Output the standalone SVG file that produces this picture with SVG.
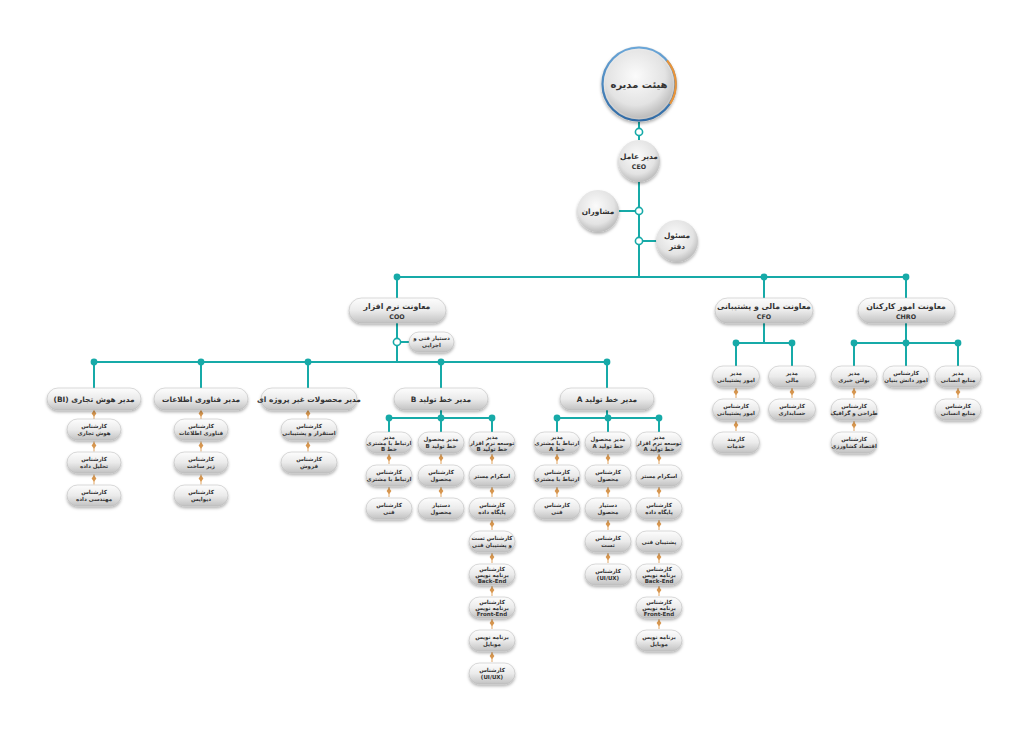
<svg xmlns="http://www.w3.org/2000/svg" xmlns:xlink="http://www.w3.org/1999/xlink" width="1024" height="733" viewBox="0 0 1024 733">
<defs>
<linearGradient id="pg" x1="0" y1="0" x2="0" y2="1"><stop offset="0" stop-color="#fdfdfd"/><stop offset="0.5" stop-color="#ebebeb"/><stop offset="1" stop-color="#c2c2c2"/></linearGradient>
<radialGradient id="cg" cx="0.45" cy="0.38" r="0.62"><stop offset="0" stop-color="#fbfbfb"/><stop offset="0.7" stop-color="#e3e3e3"/><stop offset="1" stop-color="#bdbdbd"/></radialGradient>
<linearGradient id="ring" x1="0" y1="0" x2="0" y2="1"><stop offset="0" stop-color="#6aa6d8"/><stop offset="1" stop-color="#2f6aa5"/></linearGradient>
<filter id="sh" x="-30%" y="-40%" width="160%" height="200%"><feDropShadow dx="0" dy="2" stdDeviation="1.5" flood-color="#000" flood-opacity="0.3"/></filter>
<g id="oc"><line x1="0" y1="-5" x2="0" y2="5" stroke="#e6b47c" stroke-width="1.2"/><path d="M0,-4.2 L2.4,-1 L0,2.2 L-2.4,-1 Z" fill="#d8974f"/></g>
<style>
.c{stroke:#17aaa8;stroke-width:2;fill:none}
.dot{fill:#17aaa8}
.hol{fill:#fff;stroke:#17aaa8;stroke-width:1.6}
.pl{fill:url(#pg);stroke:#b4b4b4;stroke-width:0.5;filter:url(#sh)}
.ci{fill:url(#cg);filter:url(#sh)}
text{font-family:"DejaVu Sans",sans-serif;fill:#333;text-anchor:middle;direction:rtl;font-weight:bold}
.f0{font-size:10px}
.f1{font-size:7.8px}
.f2{font-size:7.4px}
.f3{font-size:5.5px}
.en{font-size:6.3px}
</style>
</defs>
<rect width="1024" height="733" fill="#fff"/>

<g id="connectors">
<line class="c" x1="639" y1="122" x2="639" y2="140"/>
<line class="c" x1="639" y1="182" x2="639" y2="277"/>
<line class="c" x1="619" y1="211" x2="639" y2="211"/>
<line class="c" x1="639" y1="241" x2="657" y2="241"/>
<line class="c" x1="397" y1="277" x2="906" y2="277"/>
<line class="c" x1="397" y1="277" x2="397" y2="298"/>
<line class="c" x1="764" y1="277" x2="764" y2="298"/>
<line class="c" x1="906" y1="277" x2="906" y2="298"/>
<line class="c" x1="397" y1="323" x2="397" y2="362"/>
<line class="c" x1="397" y1="342" x2="409" y2="342"/>
<line class="c" x1="93" y1="362" x2="607" y2="362"/>
<line class="c" x1="94" y1="362" x2="94" y2="388"/>
<line class="c" x1="201" y1="362" x2="201" y2="388"/>
<line class="c" x1="308" y1="362" x2="308" y2="388"/>
<line class="c" x1="441" y1="362" x2="441" y2="388"/>
<line class="c" x1="607" y1="362" x2="607" y2="388"/>
<line class="c" x1="764" y1="323" x2="764" y2="343"/>
<line class="c" x1="736" y1="343" x2="792" y2="343"/>
<line class="c" x1="736" y1="343" x2="736" y2="366"/>
<line class="c" x1="792" y1="343" x2="792" y2="366"/>
<line class="c" x1="906" y1="323" x2="906" y2="343"/>
<line class="c" x1="854" y1="343" x2="958" y2="343"/>
<line class="c" x1="854" y1="343" x2="854" y2="366"/>
<line class="c" x1="906" y1="343" x2="906" y2="366"/>
<line class="c" x1="958" y1="343" x2="958" y2="366"/>
<line class="c" x1="441" y1="410" x2="441" y2="418"/>
<line class="c" x1="389" y1="418" x2="492" y2="418"/>
<line class="c" x1="389" y1="418" x2="389" y2="432"/>
<line class="c" x1="441" y1="418" x2="441" y2="432"/>
<line class="c" x1="492" y1="418" x2="492" y2="432"/>
<line class="c" x1="607" y1="410" x2="607" y2="418"/>
<line class="c" x1="557" y1="418" x2="659" y2="418"/>
<line class="c" x1="557" y1="418" x2="557" y2="432"/>
<line class="c" x1="608" y1="418" x2="608" y2="432"/>
<line class="c" x1="659" y1="418" x2="659" y2="432"/>
<circle class="hol" cx="639" cy="132" r="3.6"/>
<circle class="hol" cx="639" cy="211" r="3.6"/>
<circle class="hol" cx="639" cy="241" r="3.6"/>
<circle class="hol" cx="397" cy="342" r="3.6"/>
<circle class="dot" cx="397" cy="277" r="3.4"/>
<circle class="dot" cx="764" cy="277" r="3.4"/>
<circle class="dot" cx="906" cy="277" r="3.4"/>
<circle class="dot" cx="94" cy="362" r="3.4"/>
<circle class="dot" cx="201" cy="362" r="3.4"/>
<circle class="dot" cx="308" cy="362" r="3.4"/>
<circle class="dot" cx="441" cy="362" r="3.4"/>
<circle class="dot" cx="607" cy="362" r="3.4"/>
<circle class="dot" cx="736" cy="343" r="3.4"/>
<circle class="dot" cx="792" cy="343" r="3.4"/>
<circle class="dot" cx="854" cy="343" r="3.4"/>
<circle class="dot" cx="906" cy="343" r="3.4"/>
<circle class="dot" cx="958" cy="343" r="3.4"/>
<circle class="dot" cx="389" cy="418" r="3.4"/>
<circle class="dot" cx="441" cy="418" r="3.4"/>
<circle class="dot" cx="492" cy="418" r="3.4"/>
<circle class="dot" cx="557" cy="418" r="3.4"/>
<circle class="dot" cx="608" cy="418" r="3.4"/>
<circle class="dot" cx="659" cy="418" r="3.4"/>
<use href="#oc" x="94" y="414.5"/><use href="#oc" x="94" y="446.5"/><use href="#oc" x="94" y="479.5"/>
<use href="#oc" x="201" y="414.5"/><use href="#oc" x="201" y="446.5"/><use href="#oc" x="201" y="479.5"/>
<use href="#oc" x="308" y="414.5"/><use href="#oc" x="308" y="446.5"/>
<use href="#oc" x="389" y="459"/><use href="#oc" x="389" y="492"/>
<use href="#oc" x="441" y="459"/><use href="#oc" x="441" y="492"/>
<use href="#oc" x="492" y="459"/><use href="#oc" x="492" y="492"/><use href="#oc" x="492" y="525"/><use href="#oc" x="492" y="558"/><use href="#oc" x="492" y="591"/><use href="#oc" x="492" y="624"/><use href="#oc" x="492" y="657"/>
<use href="#oc" x="557" y="459"/><use href="#oc" x="557" y="492"/>
<use href="#oc" x="608" y="459"/><use href="#oc" x="608" y="492"/><use href="#oc" x="608" y="525"/><use href="#oc" x="608" y="558"/>
<use href="#oc" x="659" y="459"/><use href="#oc" x="659" y="492"/><use href="#oc" x="659" y="525"/><use href="#oc" x="659" y="558"/><use href="#oc" x="659" y="591"/><use href="#oc" x="659" y="624"/>
<use href="#oc" x="736" y="393"/><use href="#oc" x="736" y="426"/>
<use href="#oc" x="792" y="393"/>
<use href="#oc" x="854" y="393"/><use href="#oc" x="854" y="426"/>
<use href="#oc" x="958" y="393"/>
</g>

<g id="board">
<circle class="ci" cx="639" cy="84" r="38"/>
<circle cx="639" cy="84" r="36.5" fill="none" stroke="url(#ring)" stroke-width="2.2"/>
<path d="M667,60.5 A36.5,36.5 0 0 1 670,104" fill="none" stroke="#e8943a" stroke-width="2.2"/>
<circle cx="639" cy="84" r="34" fill="url(#cg)"/>
<text class="f0" x="639" y="88">هیئت مدیره</text>
</g>
<g id="ceo">
<circle class="ci" cx="639" cy="161" r="21"/>
<text class="f2" x="639" y="159">مدیر عامل</text>
<text class="en" x="639" y="169">CEO</text>
</g>
<g id="advisors">
<circle class="ci" cx="598" cy="211" r="21"/>
<text class="f2" x="598" y="214">مشاوران</text>
</g>
<g id="office">
<circle class="ci" cx="677" cy="241" r="21"/>
<text class="f2" x="677" y="238">مسئول</text>
<text class="f2" x="677" y="249">دفتر</text>
</g>

<g id="coo">
<rect class="pl" x="349" y="298" width="97" height="25" rx="12.5"/>
<text class="f1" x="397" y="309">معاونت نرم افزار</text>
<text class="en" x="397" y="318.5">COO</text>
</g>
<g id="cfo">
<rect class="pl" x="715" y="298" width="98" height="25" rx="12.5"/>
<text class="f1" x="764" y="309">معاونت مالی و پشتیبانی</text>
<text class="en" x="764" y="318.5">CFO</text>
</g>
<g id="chro">
<rect class="pl" x="858" y="298" width="97" height="25" rx="12.5"/>
<text class="f1" x="906" y="309">معاونت امور کارکنان</text>
<text class="en" x="906" y="318.5">CHRO</text>
</g>
<g id="assistant">
<rect class="pl" x="409" y="332" width="45" height="20" rx="10"/>
<text class="f3" x="431.5" y="340">دستیار فنی و</text>
<text class="f3" x="431.5" y="347">اجرایی</text>
</g>

<g id="bi">
<rect class="pl" x="47" y="388" width="94" height="22" rx="11"/>
<text class="f2" x="94" y="401.5">مدیر هوش تجاری (BI)</text>
</g>
<g id="it">
<rect class="pl" x="154" y="388" width="94" height="22" rx="11"/>
<text class="f2" x="201" y="401.5">مدیر فناوری اطلاعات</text>
</g>
<g id="nonproject">
<rect class="pl" x="261" y="388" width="96" height="22" rx="11"/>
<text class="f2" x="309" y="401.5">مدیر محصولات غیر پروژه ای</text>
</g>
<g id="lineB">
<rect class="pl" x="394" y="388" width="94" height="22" rx="11"/>
<text class="f2" x="441" y="401.5">مدیر خط تولید B</text>
</g>
<g id="lineA">
<rect class="pl" x="560" y="388" width="94" height="22" rx="11"/>
<text class="f2" x="607" y="401.5">مدیر خط تولید A</text>
</g>

<g id="bi1"><rect class="pl" x="67" y="419" width="54" height="21" rx="10.5"/><text class="f3" x="94" y="428">کارشناس</text><text class="f3" x="94" y="435">هوش تجاری</text></g>
<g id="bi2"><rect class="pl" x="67" y="452" width="54" height="21" rx="10.5"/><text class="f3" x="94" y="461">کارشناس</text><text class="f3" x="94" y="468">تحلیل داده</text></g>
<g id="bi3"><rect class="pl" x="67" y="485" width="54" height="21" rx="10.5"/><text class="f3" x="94" y="494">کارشناس</text><text class="f3" x="94" y="501">مهندسی داده</text></g>

<g id="it1"><rect class="pl" x="174" y="419" width="54" height="21" rx="10.5"/><text class="f3" x="201" y="428">کارشناس</text><text class="f3" x="201" y="435">فناوری اطلاعات</text></g>
<g id="it2"><rect class="pl" x="174" y="452" width="54" height="21" rx="10.5"/><text class="f3" x="201" y="461">کارشناس</text><text class="f3" x="201" y="468">زیر ساخت</text></g>
<g id="it3"><rect class="pl" x="174" y="485" width="54" height="21" rx="10.5"/><text class="f3" x="201" y="494">کارشناس</text><text class="f3" x="201" y="501">دیوایس</text></g>

<g id="np1"><rect class="pl" x="281" y="419" width="56" height="21" rx="10.5"/><text class="f3" x="309" y="428">کارشناس</text><text class="f3" x="309" y="435">استقرار و پشتیبانی</text></g>
<g id="np2"><rect class="pl" x="281" y="452" width="56" height="21" rx="10.5"/><text class="f3" x="309" y="461">کارشناس</text><text class="f3" x="309" y="468">فروش</text></g>

<g id="b11"><rect class="pl" x="366" y="432" width="46" height="21" rx="10.5"/><text class="f3" x="389" y="438.5">مدیر</text><text class="f3" x="389" y="444.5">ارتباط با مشتری</text><text class="f3" x="389" y="450.5">خط B</text></g>
<g id="b12"><rect class="pl" x="366" y="465" width="46" height="21" rx="10.5"/><text class="f3" x="389" y="474">کارشناس</text><text class="f3" x="389" y="481">ارتباط با مشتری</text></g>
<g id="b13"><rect class="pl" x="366" y="498" width="46" height="21" rx="10.5"/><text class="f3" x="389" y="507">کارشناس</text><text class="f3" x="389" y="514">فنی</text></g>

<g id="b21"><rect class="pl" x="418" y="432" width="46" height="21" rx="10.5"/><text class="f3" x="441" y="441">مدیر محصول</text><text class="f3" x="441" y="448">خط تولید B</text></g>
<g id="b22"><rect class="pl" x="418" y="465" width="46" height="21" rx="10.5"/><text class="f3" x="441" y="474">کارشناس</text><text class="f3" x="441" y="481">محصول</text></g>
<g id="b23"><rect class="pl" x="418" y="498" width="46" height="21" rx="10.5"/><text class="f3" x="441" y="507">دستیار</text><text class="f3" x="441" y="514">محصول</text></g>

<g id="b31"><rect class="pl" x="469" y="432" width="46" height="21" rx="10.5"/><text class="f3" x="492" y="438.5">مدیر</text><text class="f3" x="492" y="444.5">توسعه نرم افزار</text><text class="f3" x="492" y="450.5">خط تولید B</text></g>
<g id="b32"><rect class="pl" x="469" y="465" width="46" height="21" rx="10.5"/><text class="f3" x="492" y="477.5">اسکرام مستر</text></g>
<g id="b33"><rect class="pl" x="469" y="498" width="46" height="21" rx="10.5"/><text class="f3" x="492" y="507">کارشناس</text><text class="f3" x="492" y="514">پایگاه داده</text></g>
<g id="b34"><rect class="pl" x="469" y="531" width="46" height="21" rx="10.5"/><text class="f3" x="492" y="540">کارشناس تست</text><text class="f3" x="492" y="547">و پشتیبان فنی</text></g>
<g id="b35"><rect class="pl" x="469" y="564" width="46" height="21" rx="10.5"/><text class="f3" x="492" y="570.5">کارشناس</text><text class="f3" x="492" y="576.5">برنامه نویس</text><text class="f3" x="492" y="582.5">Back-End</text></g>
<g id="b36"><rect class="pl" x="469" y="597" width="46" height="21" rx="10.5"/><text class="f3" x="492" y="603.5">کارشناس</text><text class="f3" x="492" y="609.5">برنامه نویس</text><text class="f3" x="492" y="615.5">Front-End</text></g>
<g id="b37"><rect class="pl" x="469" y="630" width="46" height="21" rx="10.5"/><text class="f3" x="492" y="639">برنامه نویس</text><text class="f3" x="492" y="646">موبایل</text></g>
<g id="b38"><rect class="pl" x="469" y="663" width="46" height="21" rx="10.5"/><text class="f3" x="492" y="672">کارشناس</text><text class="f3" x="492" y="679">(UI/UX)</text></g>

<g id="a11"><rect class="pl" x="534" y="432" width="46" height="21" rx="10.5"/><text class="f3" x="557" y="438.5">مدیر</text><text class="f3" x="557" y="444.5">ارتباط با مشتری</text><text class="f3" x="557" y="450.5">خط A</text></g>
<g id="a12"><rect class="pl" x="534" y="465" width="46" height="21" rx="10.5"/><text class="f3" x="557" y="474">کارشناس</text><text class="f3" x="557" y="481">ارتباط با مشتری</text></g>
<g id="a13"><rect class="pl" x="534" y="498" width="46" height="21" rx="10.5"/><text class="f3" x="557" y="507">کارشناس</text><text class="f3" x="557" y="514">فنی</text></g>

<g id="a21"><rect class="pl" x="585" y="432" width="46" height="21" rx="10.5"/><text class="f3" x="608" y="441">مدیر محصول</text><text class="f3" x="608" y="448">خط تولید A</text></g>
<g id="a22"><rect class="pl" x="585" y="465" width="46" height="21" rx="10.5"/><text class="f3" x="608" y="474">کارشناس</text><text class="f3" x="608" y="481">محصول</text></g>
<g id="a23"><rect class="pl" x="585" y="498" width="46" height="21" rx="10.5"/><text class="f3" x="608" y="507">دستیار</text><text class="f3" x="608" y="514">محصول</text></g>
<g id="a24"><rect class="pl" x="585" y="531" width="46" height="21" rx="10.5"/><text class="f3" x="608" y="540">کارشناس</text><text class="f3" x="608" y="547">تست</text></g>
<g id="a25"><rect class="pl" x="585" y="564" width="46" height="21" rx="10.5"/><text class="f3" x="608" y="573">کارشناس</text><text class="f3" x="608" y="580">(UI/UX)</text></g>

<g id="a31"><rect class="pl" x="636" y="432" width="46" height="21" rx="10.5"/><text class="f3" x="659" y="438.5">مدیر</text><text class="f3" x="659" y="444.5">توسعه نرم افزار</text><text class="f3" x="659" y="450.5">خط تولید A</text></g>
<g id="a32"><rect class="pl" x="636" y="465" width="46" height="21" rx="10.5"/><text class="f3" x="659" y="477.5">اسکرام مستر</text></g>
<g id="a33"><rect class="pl" x="636" y="498" width="46" height="21" rx="10.5"/><text class="f3" x="659" y="507">کارشناس</text><text class="f3" x="659" y="514">پایگاه داده</text></g>
<g id="a34"><rect class="pl" x="636" y="531" width="46" height="21" rx="10.5"/><text class="f3" x="659" y="543.5">پشتیبان فنی</text></g>
<g id="a35"><rect class="pl" x="636" y="564" width="46" height="21" rx="10.5"/><text class="f3" x="659" y="570.5">کارشناس</text><text class="f3" x="659" y="576.5">برنامه نویس</text><text class="f3" x="659" y="582.5">Back-End</text></g>
<g id="a36"><rect class="pl" x="636" y="597" width="46" height="21" rx="10.5"/><text class="f3" x="659" y="603.5">کارشناس</text><text class="f3" x="659" y="609.5">برنامه نویس</text><text class="f3" x="659" y="615.5">Front-End</text></g>
<g id="a37"><rect class="pl" x="636" y="630" width="46" height="21" rx="10.5"/><text class="f3" x="659" y="639">برنامه نویس</text><text class="f3" x="659" y="646">موبایل</text></g>

<g id="cfo1"><rect class="pl" x="712.5" y="366" width="47" height="21" rx="10.5"/><text class="f3" x="736" y="375">مدیر</text><text class="f3" x="736" y="382">امور پشتیبانی</text></g>
<g id="cfo2"><rect class="pl" x="712.5" y="399" width="47" height="21" rx="10.5"/><text class="f3" x="736" y="408">کارشناس</text><text class="f3" x="736" y="415">امور پشتیبانی</text></g>
<g id="cfo3"><rect class="pl" x="712.5" y="432" width="47" height="21" rx="10.5"/><text class="f3" x="736" y="441">کارمند</text><text class="f3" x="736" y="448">خدمات</text></g>
<g id="cfo4"><rect class="pl" x="768.5" y="366" width="47" height="21" rx="10.5"/><text class="f3" x="792" y="375">مدیر</text><text class="f3" x="792" y="382">مالی</text></g>
<g id="cfo5"><rect class="pl" x="768.5" y="399" width="47" height="21" rx="10.5"/><text class="f3" x="792" y="408">کارشناس</text><text class="f3" x="792" y="415">حسابداری</text></g>

<g id="hr1"><rect class="pl" x="831" y="366" width="46" height="21" rx="10.5"/><text class="f3" x="854" y="375">مدیر</text><text class="f3" x="854" y="382">بولتن خبری</text></g>
<g id="hr2"><rect class="pl" x="831" y="399" width="46" height="21" rx="10.5"/><text class="f3" x="854" y="408">کارشناس</text><text class="f3" x="854" y="415">طراحی و گرافیک</text></g>
<g id="hr3"><rect class="pl" x="831" y="432" width="46" height="21" rx="10.5"/><text class="f3" x="854" y="441">کارشناس</text><text class="f3" x="854" y="448">اقتصاد کشاورزی</text></g>
<g id="hr4"><rect class="pl" x="883" y="366" width="46" height="21" rx="10.5"/><text class="f3" x="906" y="375">کارشناس</text><text class="f3" x="906" y="382">امور دانش بنیان</text></g>
<g id="hr5"><rect class="pl" x="935" y="366" width="46" height="21" rx="10.5"/><text class="f3" x="958" y="375">مدیر</text><text class="f3" x="958" y="382">منابع انسانی</text></g>
<g id="hr6"><rect class="pl" x="935" y="399" width="46" height="21" rx="10.5"/><text class="f3" x="958" y="408">کارشناس</text><text class="f3" x="958" y="415">منابع انسانی</text></g>
</svg>
